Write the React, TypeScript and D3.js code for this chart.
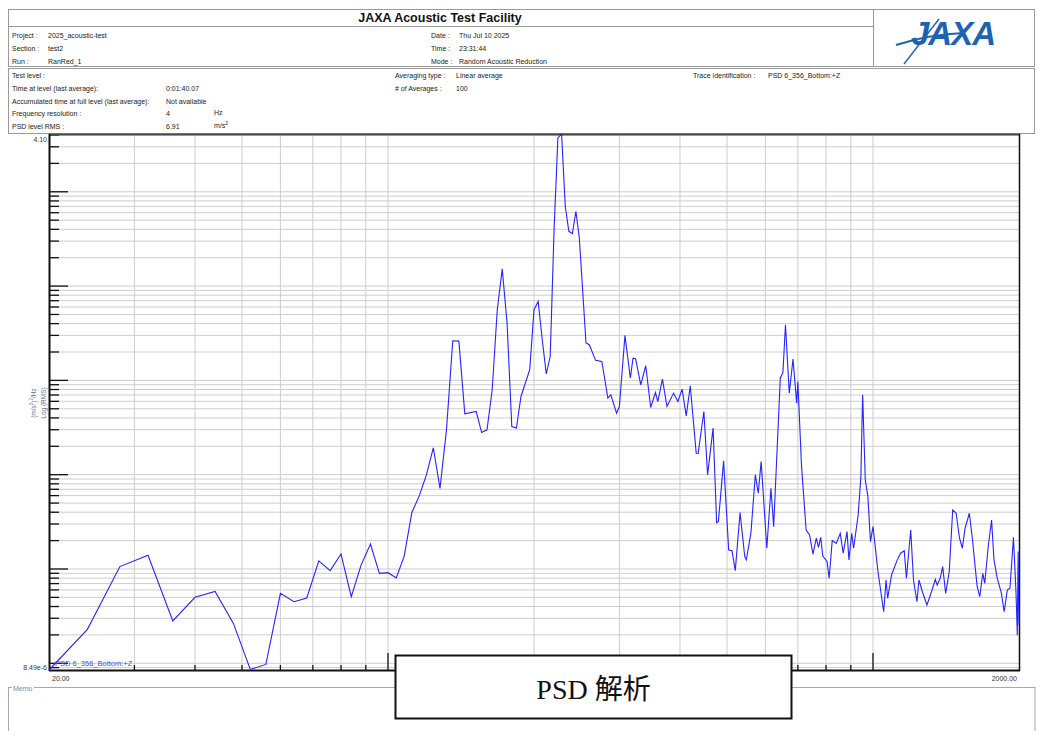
import React from 'react';
import * as d3 from 'd3';

// PSD trace (Hz, (m/s^2)^2/Hz)
const freqHz = [
  20, 24, 28, 32, 36, 40, 44, 48, 52, 56,
  60, 64, 68, 72, 76, 80, 84, 88, 92, 96,
  100, 104, 108, 112, 116, 120, 124, 128, 132, 136,
  140, 144, 152, 156, 160, 164, 168, 172, 176, 180,
  184, 188, 196, 200, 204, 208, 212, 216, 220, 224,
  228, 232, 236, 240, 244, 248, 256, 260, 268, 276,
  284, 288, 296, 300, 308, 316, 320, 324, 332, 340,
  348, 356, 360, 368, 376, 388, 396, 404, 412, 420,
  432, 436, 448, 456, 468, 476, 480, 492, 504, 512,
  520, 532, 544, 548, 560, 572, 580, 588, 604, 616,
  624, 644, 652, 660, 672, 684, 696, 700, 712, 728,
  740, 752, 764, 772, 780, 788, 804, 812, 824, 840,
  856, 868, 884, 892, 904, 912, 932, 944, 952, 964,
  976, 988, 1000, 1024, 1052, 1064, 1072, 1092, 1120, 1140,
  1160, 1172, 1196, 1212, 1232, 1244, 1264, 1292, 1320, 1344,
  1356, 1376, 1392, 1412, 1436, 1460, 1484, 1508, 1528, 1548,
  1580, 1604, 1624, 1640, 1660, 1684, 1700, 1728, 1756, 1776,
  1804, 1840, 1864, 1892, 1916, 1948, 1972, 1984, 1992, 2000
];

const psd = [
  8.49e-6, 2.29e-5, 1.06e-4, 1.40e-4, 2.81e-5, 5.01e-5, 5.79e-5, 2.65e-5, 8.61e-6, 9.73e-6,
  5.52e-5, 4.50e-5, 4.92e-5, 1.22e-4, 9.60e-5, 1.44e-4, 5.08e-5, 1.10e-4, 1.84e-4, 9.00e-5,
  9.14e-5, 8.02e-5, 1.37e-4, 3.98e-4, 5.96e-4, 9.95e-4, 1.93e-3, 7.15e-4, 2.99e-3, 2.63e-2,
  2.61e-2, 4.42e-3, 4.68e-3, 2.80e-3, 2.99e-3, 7.95e-3, 5.62e-2, 1.52e-1, 4.06e-2, 3.24e-3,
  3.12e-3, 6.75e-3, 1.30e-2, 5.62e-2, 6.88e-2, 2.70e-2, 1.17e-2, 1.79e-2, 3.97e-1, 3.73,
  4.10, 0.702, 0.381, 0.360, 0.621, 0.324, 2.49e-2, 2.39e-2, 1.63e-2, 1.59e-2,
  6.49e-3, 7.03e-3, 4.50e-3, 5.28e-3, 3.00e-2, 1.06e-2, 1.72e-2, 1.70e-2, 8.98e-3, 1.43e-2,
  5.16e-3, 7.44e-3, 5.97e-3, 1.03e-2, 5.28e-3, 7.33e-3, 5.97e-3, 8.08e-3, 4.21e-3, 8.76e-3,
  1.69e-3, 1.68e-3, 4.68e-3, 9.95e-4, 3.12e-3, 3.10e-4, 3.18e-4, 1.40e-3, 1.59e-4, 1.56e-4,
  9.60e-5, 3.96e-4, 1.35e-4, 1.25e-4, 2.39e-4, 9.95e-4, 6.36e-4, 1.38e-3, 1.66e-4, 7.19e-4,
  2.81e-4, 1.06e-2, 1.21e-2, 3.89e-2, 7.33e-3, 1.68e-2, 5.74e-3, 9.73e-3, 1.27e-3, 2.59e-4,
  2.30e-4, 1.44e-4, 2.12e-4, 1.70e-4, 2.17e-4, 1.37e-4, 1.20e-4, 7.97e-5, 2.00e-4, 1.87e-4,
  2.39e-4, 1.47e-4, 2.49e-4, 1.25e-4, 2.39e-4, 1.66e-4, 3.74e-4, 9.54e-4, 7.03e-3, 8.81e-4,
  5.85e-4, 1.95e-4, 2.81e-4, 9.36e-5, 3.52e-5, 7.64e-5, 4.89e-5, 8.64e-5, 1.22e-4, 1.47e-4,
  1.56e-4, 7.97e-5, 2.59e-4, 7.64e-5, 4.50e-5, 7.64e-5, 5.74e-5, 4.15e-5, 5.74e-5, 7.77e-5,
  6.76e-5, 7.97e-5, 1.06e-4, 5.52e-5, 9.36e-5, 4.23e-4, 3.90e-4, 2.12e-4, 1.66e-4, 2.70e-4,
  3.90e-4, 2.03e-4, 1.06e-4, 6.49e-5, 5.08e-5, 9.00e-5, 7.05e-5, 1.72e-4, 3.31e-4, 1.25e-4,
  7.97e-5, 5.52e-5, 3.52e-5, 5.98e-5, 6.24e-5, 2.17e-4, 5.52e-5, 1.99e-5, 1.53e-4, 2.54e-5
];

const freqRange = [20, 2000];
const xTickLabels = ['20.00', '2000.00'];
const yTickLabels = ['4.10', '8.49e-6'];
const traceName = 'PSD 6_356_Bottom:+Z';

const headerLeft = [
  ['Project :', '2025_acoustic-test'],
  ['Section :', 'test2'],
  ['Run :', 'RanRed_1']
];
const headerMid = [
  ['Date :', 'Thu Jul 10 2025'],
  ['Time :', '23:31:44'],
  ['Mode :', 'Random Acoustic Reduction']
];
const infoLeft = [
  ['Test level :', '', ''],
  ['Time at level (last average):', '0:01:40.07', ''],
  ['Accumulated time at full level (last average):', 'Not available', ''],
  ['Frequency resolution :', '4', 'Hz'],
  ['PSD level RMS :', '6.91', 'm/s']
];
const infoMid = [
  ['Averaging type :', 'Linear average'],
  ['# of Averages :', '100']
];

const SANS = "'Liberation Sans', Arial, sans-serif";

const App: React.FC = () => {
  const W = 1041;
  const H = 731;
  const plot = { left: 49, right: 1019, top: 134, bottom: 670 };

  const data: [number, number][] = freqHz.map((f, i) => [f, psd[i]]);

  const xScale = d3.scaleLog().domain(freqRange).range([plot.left, plot.right]);
  const yScale = d3
    .scaleLog()
    .domain([d3.min(psd) as number, d3.max(psd) as number])
    .range([plot.bottom, plot.top]);

  const xGrid = xScale.ticks().filter(f => f > freqRange[0] && f < freqRange[1]);
  const yGrid = yScale.ticks();
  const isDecade = (v: number) => Math.abs(Math.log10(v) - Math.round(Math.log10(v))) < 1e-9;

  const line = d3
    .line<[number, number]>()
    .x(d => xScale(d[0]))
    .y(d => yScale(d[1]));

  const txt = { fontFamily: SANS, fontSize: 7, fill: '#222' } as const;

  return (
    <svg
      width={W}
      height={H}
      style={{ position: 'absolute', left: 0, top: 0, display: 'block', background: '#fff' }}
    >
      {/* header block */}
      <rect x={8.5} y={9.5} width={1026} height={57} fill="none" stroke="#9a9a9a" />
      <line x1={8.5} x2={873.5} y1={26.5} y2={26.5} stroke="#9a9a9a" />
      <line x1={873.5} x2={873.5} y1={9.5} y2={66.5} stroke="#9a9a9a" />
      <text x={440} y={22} textAnchor="middle" fontFamily={SANS} fontWeight="bold" fontSize={12.5} fill="#111">
        JAXA Acoustic Test Facility
      </text>
      {headerLeft.map(([k, v], i) => (
        <g key={k}>
          <text x={12} y={37.5 + i * 13} {...txt}>{k}</text>
          <text x={48} y={37.5 + i * 13} {...txt}>{v}</text>
        </g>
      ))}
      {headerMid.map(([k, v], i) => (
        <g key={k}>
          <text x={431} y={37.5 + i * 13} {...txt}>{k}</text>
          <text x={459} y={37.5 + i * 13} {...txt}>{v}</text>
        </g>
      ))}

      {/* JAXA logo */}
      <g>
        <path d="M896,45 C915,39 936,34 964,33" fill="none" stroke="#1d63b3" strokeWidth={2} />
        <path d="M939,19 L904,64" fill="none" stroke="#1d63b3" strokeWidth={1.4} />
        <text
          x={911}
          y={45}
          fontFamily={SANS}
          fontWeight="bold"
          fontStyle="italic"
          fontSize={33}
          fill="#1d63b3"
          letterSpacing={-1}
        >
          JAXA
        </text>
      </g>

      {/* info block */}
      <rect x={8.5} y={68.5} width={1026} height={65} fill="none" stroke="#9a9a9a" />
      {infoLeft.map(([k, v, u], i) => (
        <g key={k}>
          <text x={12} y={78 + i * 12.8} {...txt}>{k}</text>
          <text x={166} y={78 + i * 12.8} {...txt}>{v}</text>
          {u && (
            <text x={214} y={76.5 + i * 12.8} {...txt}>
              {u}
              {u === 'm/s' && <tspan dy={-3} fontSize={5}>2</tspan>}
            </text>
          )}
        </g>
      ))}
      {infoMid.map(([k, v], i) => (
        <g key={k}>
          <text x={395} y={78 + i * 12.8} {...txt}>{k}</text>
          <text x={456} y={78 + i * 12.8} {...txt}>{v}</text>
        </g>
      ))}
      <text x={693} y={78} {...txt}>Trace identification :</text>
      <text x={768} y={78} {...txt}>{traceName}</text>

      {/* grid */}
      {yGrid.map(v => (
        <line
          key={'hy' + v}
          x1={plot.left}
          x2={plot.right}
          y1={yScale(v)}
          y2={yScale(v)}
          stroke="#cdcdcd"
          strokeWidth={1}
        />
      ))}
      {xGrid.map(f => (
        <line
          key={'vx' + f}
          x1={xScale(f)}
          x2={xScale(f)}
          y1={plot.top}
          y2={plot.bottom}
          stroke="#cdcdcd"
          strokeWidth={1}
        />
      ))}

      {/* ticks */}
      {yGrid.map(v => (
        <line
          key={'ty' + v}
          x1={plot.left}
          x2={plot.left + (isDecade(v) ? 19 : 10)}
          y1={yScale(v)}
          y2={yScale(v)}
          stroke="#111"
          strokeWidth={1.3}
        />
      ))}
      {xGrid.map(f => (
        <line
          key={'tx' + f}
          x1={xScale(f)}
          x2={xScale(f)}
          y1={plot.bottom}
          y2={plot.bottom - (isDecade(f) ? 17 : 5)}
          stroke="#111"
          strokeWidth={1.3}
        />
      ))}

      {/* frame */}
      <line x1={plot.left} x2={plot.right + 1} y1={plot.top + 0.5} y2={plot.top + 0.5} stroke="#4a4a4a" strokeWidth={2} />
      <line x1={plot.right + 0.5} x2={plot.right + 0.5} y1={plot.top} y2={plot.bottom + 1} stroke="#111" strokeWidth={1.5} />
      <line x1={plot.left} x2={plot.right + 1} y1={plot.bottom + 0.5} y2={plot.bottom + 0.5} stroke="#111" strokeWidth={2} />
      <line x1={plot.left + 0.5} x2={plot.left + 0.5} y1={plot.top} y2={plot.bottom + 1} stroke="#111" strokeWidth={2} />

      {/* trace */}
      <path d={line(data) ?? ''} fill="none" stroke="#2424ff" strokeWidth={1.1} />
      <text x={55} y={665.5} fontFamily={SANS} fontSize={7.5} fill="#4a4aff">{traceName}</text>

      {/* axis labels */}
      <text x={47} y={141.5} textAnchor="end" fontFamily={SANS} fontSize={7} fill="#3a3a55">{yTickLabels[0]}</text>
      <text x={47} y={669.5} textAnchor="end" fontFamily={SANS} fontSize={7} fill="#3a3a55">{yTickLabels[1]}</text>
      <text x={52} y={680.5} fontFamily={SANS} fontSize={7} fill="#333">{xTickLabels[0]}</text>
      <text x={1017} y={681} textAnchor="end" fontFamily={SANS} fontSize={7} fill="#333">{xTickLabels[1]}</text>
      <text transform="translate(35.5,403) rotate(-90)" textAnchor="middle" fontFamily={SANS} fontSize={6.5} fill="#6a7590">
        (m/s<tspan dy={-2.5} fontSize={4.5}>2</tspan><tspan dy={2.5}>)</tspan><tspan dy={-2.5} fontSize={4.5}>2</tspan><tspan dy={2.5}>/Hz</tspan>
      </text>
      <text transform="translate(45.5,403) rotate(-90)" textAnchor="middle" fontFamily={SANS} fontSize={6.5} fill="#6a7590">
        Log (RMS)
      </text>

      {/* memo */}
      <rect x={8.5} y={687.5} width={1026.5} height={60} fill="none" stroke="#a8a8a8" />
      <rect x={12} y={685} width={22} height={5} fill="#fff" />
      <text x={13} y={691} fontFamily={SANS} fontSize={7} fill="#888">Memo</text>

      {/* caption box */}
      <rect x={395.5} y={655.5} width={396} height={63} fill="#fff" stroke="#111" strokeWidth={2} />
      <text
        x={593.5}
        y={699}
        textAnchor="middle"
        fontFamily="'Liberation Serif', 'Noto Sans CJK JP', serif"
        fontSize={28}
        fill="#111"
      >
        PSD 解析
      </text>
    </svg>
  );
};

export default App;
